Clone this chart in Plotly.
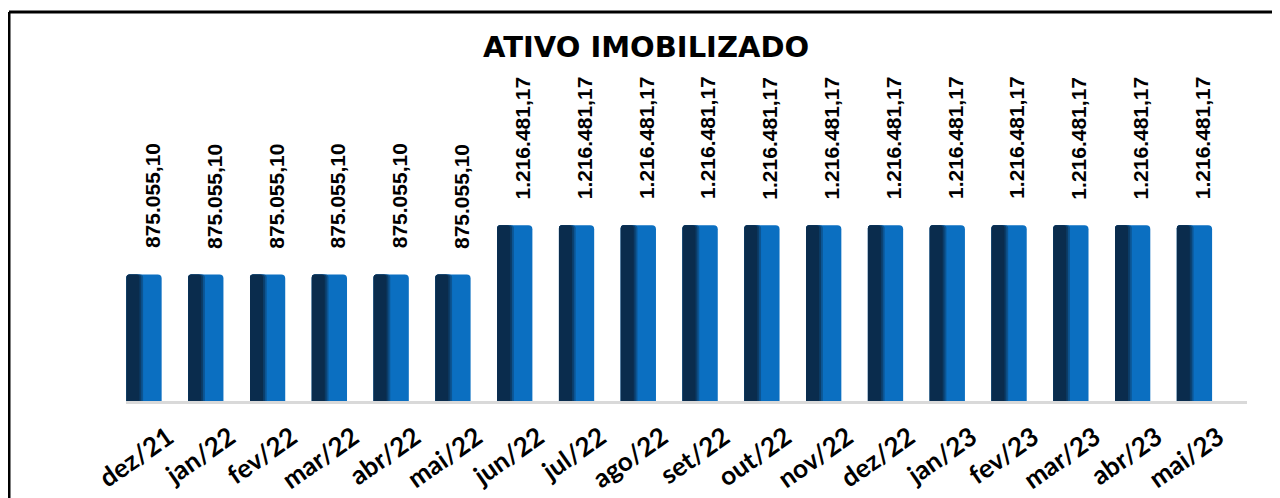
import plotly.graph_objects as go

categories = ["dez/21", "jan/22", "fev/22", "mar/22", "abr/22", "mai/22", "jun/22", "jul/22",
              "ago/22", "set/22", "out/22", "nov/22", "dez/22", "jan/23", "fev/23", "mar/23",
              "abr/23", "mai/23"]
values = [875055.10] * 6 + [1216481.17] * 12
labels = ["875.055,10"] * 6 + ["1.216.481,17"] * 12
title_text = "ATIVO IMOBILIZADO"

# the page body adds an 8px margin; the figure fills the rest of the 1280x498 window
W, H = 1272, 490
OFF = 8


def px(x):
    return (x - OFF) / W


def py(y):
    return 1 - (y - OFF) / H


fig = go.Figure()

# 3D-ish cylinder look: blue body + dark left shading + transition steps
shading = [
    (0.57, -0.285, "#0b6fc1", 4),
    (0.27, -0.285, "#0c5593", 3),
    (0.24, -0.285, "#0b3d69", 3),
    (0.21, -0.285, "#0a2c4d", 3),
]
for w, off, col, cr in shading:
    fig.add_trace(go.Bar(x=categories, y=values, width=w, offset=off,
                         marker=dict(color=col, line=dict(width=0), cornerradius=cr),
                         hoverinfo="skip"))

annotations = []
for c, v, t in zip(categories, values, labels):
    annotations.append(dict(x=c, y=v, text=t, showarrow=False, textangle=-90,
                            xanchor="center", yanchor="bottom", yshift=24, xshift=8,
                            font=dict(family="Liberation Sans", size=21, color="#000000", weight="bold")))
annotations.append(dict(x=px(646), y=py(47), xref="paper", yref="paper", text=title_text,
                        showarrow=False, xanchor="center", yanchor="middle",
                        font=dict(family="DejaVu Sans", size=29, color="#000000", weight="bold")))

ymax = max(values) * 1.94
fig.update_layout(
    width=W, height=H,
    barmode="overlay",
    showlegend=False,
    paper_bgcolor="white", plot_bgcolor="white",
    margin=dict(l=0, r=0, t=0, b=0, autoexpand=False),
    annotations=annotations,
    xaxis=dict(domain=[px(125.5), px(1247)], range=[-0.3, 17.85], type="category",
               automargin=False,
               showgrid=False, showline=True, linecolor="#d9d9d9", linewidth=3,
               ticks="", tickangle=-35, ticklabelstandoff=8, ticklabelshift=24,
               tickfont=dict(family="Lato", size=26, color="#000000", weight="bold"),
               fixedrange=True),
    yaxis=dict(domain=[py(401), py(60)], range=[0, ymax], automargin=False,
               visible=False, showgrid=False, zeroline=False, fixedrange=True),
    shapes=[
        dict(type="line", xref="paper", yref="paper", x0=px(9), x1=px(9), y0=-0.05, y1=py(12),
             line=dict(color="#000000", width=3)),
        dict(type="line", xref="paper", yref="paper", x0=px(9), x1=1.05, y0=py(12), y1=py(12),
             line=dict(color="#000000", width=3)),
    ],
)

fig.write_html("out.html")
